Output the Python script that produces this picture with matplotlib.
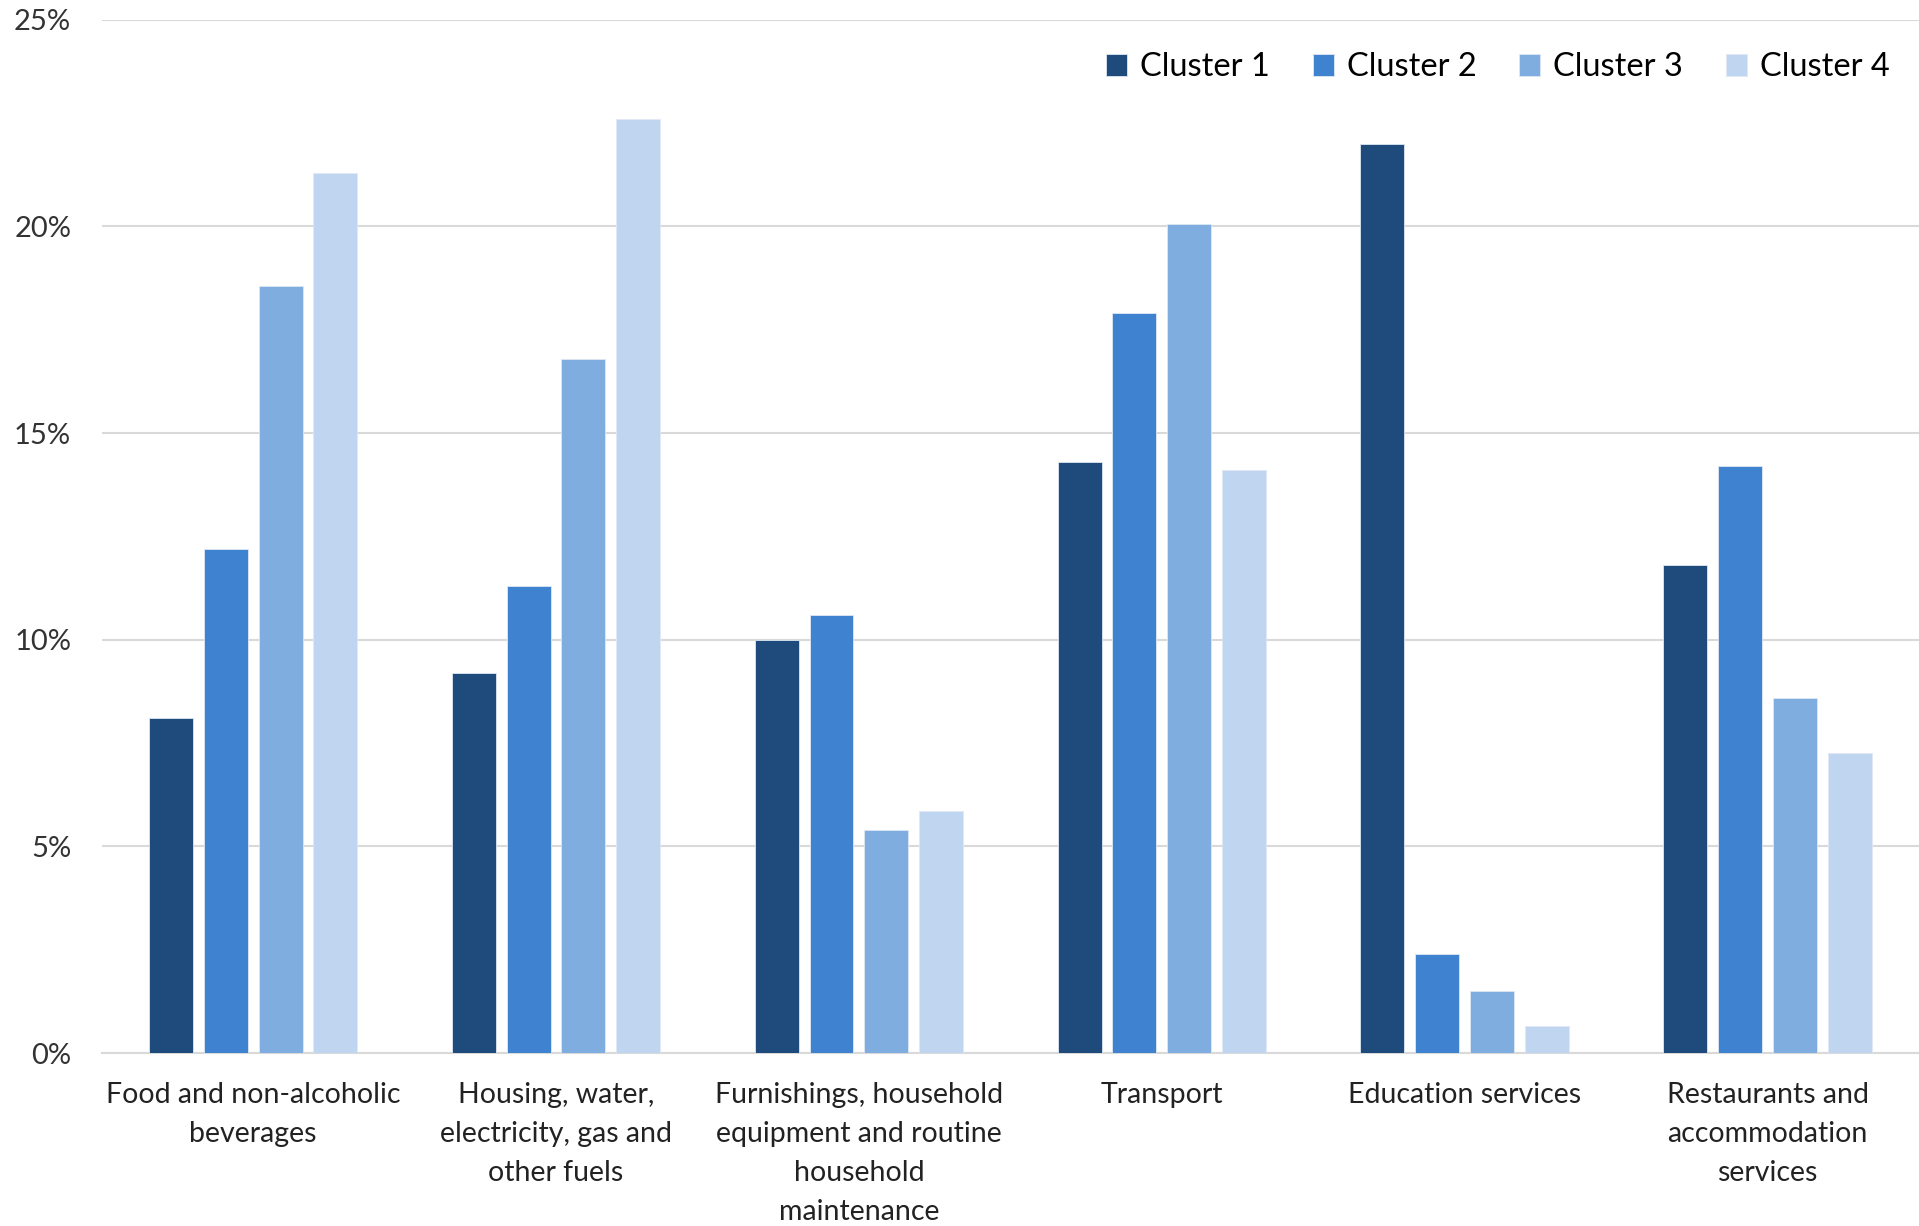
import numpy as np
import matplotlib.pyplot as plt
from matplotlib.ticker import FuncFormatter

categories = [
    "Food and non-alcoholic\nbeverages",
    "Housing, water,\nelectricity, gas and\nother fuels",
    "Furnishings, household\nequipment and routine\nhousehold\nmaintenance",
    "Transport",
    "Education services",
    "Restaurants and\naccommodation\nservices",
]
series_names = ["Cluster 1", "Cluster 2", "Cluster 3", "Cluster 4"]
cluster1 = [8.1, 9.2, 10.0, 14.3, 22.0, 11.8]
cluster2 = [12.2, 11.3, 10.6, 17.9, 2.4, 14.2]
cluster3 = [18.55, 16.8, 5.4, 20.05, 1.5, 8.6]
cluster4 = [21.3, 22.6, 5.85, 14.1, 0.65, 7.25]
colors = ["#1F4A7C", "#3E82D0", "#7FADE0", "#C0D6F0"]

plt.rcParams["font.family"] = ["Lato", "DejaVu Sans"]

fig = plt.figure(figsize=(19.19, 12.26), dpi=100)
ax = fig.add_axes([0.053, 0.141, 0.947, 0.843])

x = np.arange(len(categories))
width = 0.145
step = 0.181
for i, (vals, name, col) in enumerate(zip([cluster1, cluster2, cluster3, cluster4], series_names, colors)):
    ax.bar(x + (i - 1.5) * step, vals, width, color=col, label=name, zorder=3,
           edgecolor="#dfe8f4", linewidth=0.6)

ax.set_xlim(-0.5, len(categories) - 0.5)
ax.set_ylim(0, 25)
ax.set_yticks(np.arange(0, 26, 5))
ax.yaxis.set_major_formatter(FuncFormatter(lambda v, p: f"{v:.0f}%"))
ax.grid(axis="y", color="#d9d9d9", linewidth=1.5, zorder=0)
ax.set_xticks(x)
ax.set_xticklabels(categories, fontsize=20.5, color="#222222", linespacing=1.62)
ax.tick_params(axis="x", length=0, pad=21)
ax.tick_params(axis="y", length=0, pad=22, labelsize=21, labelcolor="#333333")
for s in ["top", "right", "left"]:
    ax.spines[s].set_visible(False)
ax.spines["bottom"].set_color("#d9d9d9")
ax.spines["bottom"].set_linewidth(1.5)

ax.legend(loc="upper right", bbox_to_anchor=(1.0, 0.997), ncol=4, frameon=False,
          fontsize=23.5, handlelength=0.65, handleheight=0.65, handletextpad=0.4,
          columnspacing=1.3)

fig.savefig("out.png", dpi=100)
